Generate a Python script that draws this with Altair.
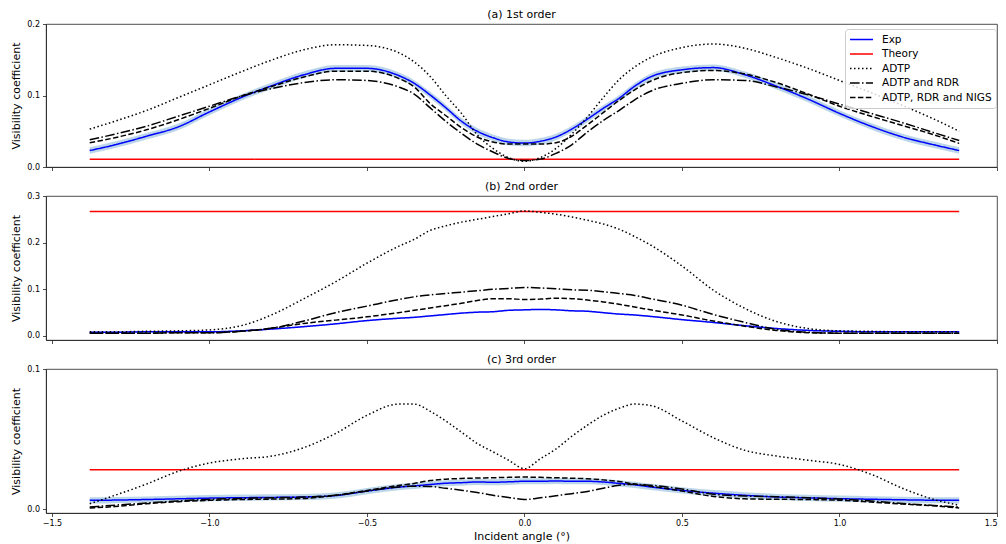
import altair as alt
import pandas as pd

# ---------------- data ----------------
X = [-1.38, -1.3, -1.2, -1.1, -1.0, -0.9, -0.8, -0.7, -0.6, -0.5, -0.4,
     -0.35, -0.3, -0.25, -0.2, -0.15, -0.1, -0.05, 0.0, 0.05, 0.1, 0.15,
     0.2, 0.25, 0.3, 0.35, 0.4, 0.5, 0.6, 0.7, 0.8, 0.9, 1.0, 1.1, 1.2,
     1.3, 1.38]

# (a) 1st order
A_EXP = [0.023, 0.031, 0.043, 0.056, 0.077, 0.097, 0.114, 0.129, 0.138, 0.138, 0.128,
         0.117, 0.101, 0.083, 0.064, 0.050, 0.041, 0.035, 0.0335, 0.036, 0.042, 0.053,
         0.067, 0.082, 0.096, 0.113, 0.126, 0.136, 0.139, 0.129, 0.113, 0.095, 0.075,
         0.057, 0.042, 0.031, 0.023]
A_ADTP = [0.053, 0.064, 0.079, 0.097, 0.115, 0.133, 0.150, 0.164, 0.171, 0.170, 0.160,
          0.147, 0.127, 0.100, 0.075, 0.045, 0.026, 0.013, 0.008, 0.013, 0.026, 0.046,
          0.070, 0.097, 0.122, 0.140, 0.153, 0.167, 0.172, 0.166, 0.153, 0.138, 0.121,
          0.104, 0.086, 0.067, 0.050]
A_RDR = [0.038, 0.046, 0.057, 0.071, 0.085, 0.099, 0.110, 0.118, 0.122, 0.121, 0.112,
         0.102, 0.083, 0.064, 0.047, 0.032, 0.021, 0.012, 0.009, 0.011, 0.019, 0.031,
         0.049, 0.065, 0.079, 0.094, 0.106, 0.117, 0.122, 0.121, 0.112, 0.101, 0.088,
         0.075, 0.062, 0.048, 0.037]
A_NIGS = [0.034, 0.041, 0.052, 0.066, 0.082, 0.099, 0.113, 0.126, 0.134, 0.134, 0.124,
          0.112, 0.089, 0.072, 0.055, 0.042, 0.035, 0.032, 0.032, 0.032, 0.034, 0.043,
          0.059, 0.076, 0.093, 0.108, 0.120, 0.132, 0.135, 0.130, 0.118, 0.102, 0.085,
          0.071, 0.058, 0.045, 0.033]

# (b) 2nd order
B_EXP = [0.008, 0.008, 0.009, 0.009, 0.009, 0.011, 0.015, 0.020, 0.026, 0.033, 0.038,
         0.040, 0.043, 0.046, 0.049, 0.051, 0.052, 0.055, 0.056, 0.057, 0.056, 0.054,
         0.053, 0.050, 0.047, 0.045, 0.042, 0.035, 0.029, 0.022, 0.016, 0.012, 0.010,
         0.009, 0.009, 0.009, 0.009]
B_ADTP = [0.009, 0.009, 0.010, 0.011, 0.013, 0.022, 0.046, 0.080, 0.116, 0.156, 0.192,
          0.207, 0.226, 0.236, 0.244, 0.250, 0.256, 0.262, 0.268, 0.265, 0.261, 0.255,
          0.248, 0.240, 0.229, 0.213, 0.195, 0.150, 0.098, 0.059, 0.031, 0.016, 0.011,
          0.010, 0.009, 0.009, 0.009]
B_RDR = [0.006, 0.006, 0.006, 0.007, 0.007, 0.010, 0.017, 0.032, 0.050, 0.064, 0.078,
         0.084, 0.088, 0.091, 0.094, 0.097, 0.100, 0.102, 0.104, 0.103, 0.101, 0.099,
         0.098, 0.095, 0.091, 0.087, 0.080, 0.066, 0.046, 0.029, 0.014, 0.008, 0.006,
         0.006, 0.006, 0.006, 0.006]
B_NIGS = [0.006, 0.006, 0.006, 0.007, 0.007, 0.010, 0.017, 0.027, 0.034, 0.041, 0.050,
          0.055, 0.060, 0.065, 0.070, 0.076, 0.080, 0.080, 0.078, 0.079, 0.081, 0.080,
          0.077, 0.073, 0.068, 0.062, 0.056, 0.045, 0.032, 0.021, 0.012, 0.007, 0.006,
          0.006, 0.006, 0.006, 0.006]

# (c) 3rd order
C_EXP = [0.0064, 0.0066, 0.0070, 0.0075, 0.0080, 0.0083, 0.0085, 0.0088, 0.0098, 0.0130, 0.0158,
         0.0167, 0.0177, 0.0186, 0.0190, 0.0195, 0.0193, 0.0196, 0.0200, 0.0200, 0.0202, 0.0200,
         0.0200, 0.0195, 0.0185, 0.0175, 0.0160, 0.0135, 0.0115, 0.0100, 0.0088, 0.0082, 0.0076,
         0.0072, 0.0068, 0.0065, 0.0064]
C_ADTP = [0.004, 0.010, 0.018, 0.027, 0.033, 0.036, 0.038, 0.044, 0.054, 0.067, 0.075,
          0.075, 0.070, 0.063, 0.055, 0.047, 0.041, 0.035, 0.029, 0.036, 0.043, 0.052,
          0.060, 0.067, 0.072, 0.075, 0.074, 0.063, 0.051, 0.042, 0.038, 0.035, 0.032,
          0.025, 0.015, 0.007, 0.003]
C_RDR = [0.0017, 0.0030, 0.0045, 0.0060, 0.0071, 0.0078, 0.0083, 0.0088, 0.0100, 0.0130, 0.0160,
         0.0165, 0.0163, 0.0150, 0.0136, 0.0120, 0.0100, 0.0085, 0.0070, 0.0082, 0.0097, 0.0112,
         0.0128, 0.0150, 0.0172, 0.0178, 0.0172, 0.0145, 0.0108, 0.0095, 0.0090, 0.0082, 0.0073,
         0.0060, 0.0042, 0.0028, 0.0017]
C_NIGS = [0.0010, 0.0020, 0.0040, 0.0055, 0.0064, 0.0070, 0.0073, 0.0078, 0.0100, 0.0135, 0.0170,
          0.0185, 0.0205, 0.0215, 0.0220, 0.0223, 0.0225, 0.0228, 0.0230, 0.0228, 0.0225, 0.0222,
          0.0218, 0.0210, 0.0198, 0.0180, 0.0165, 0.0130, 0.0092, 0.0075, 0.0072, 0.0070, 0.0065,
          0.0052, 0.0038, 0.0025, 0.0010]

THEORY = [0.011, 0.267, 0.0282]          # constant theory values per order
EXP_ERR = [0.0045, 0.0015, 0.0022]       # half-width of the experimental band

TITLES = ["(a) 1st order", "(b) 2nd order", "(c) 3rd order"]
Y_DOMAINS = [[0.0, 0.2], [-0.0086, 0.3], [-0.0026, 0.1]]
Y_TICKS = [[0.0, 0.1, 0.2], [0.0, 0.1, 0.2, 0.3], [0.0, 0.1]]
X_TICKS = [-1.5, -1.0, -0.5, 0.0, 0.5, 1.0, 1.5]
X_DOMAIN = [-1.5188, 1.5]

SERIES = ["Exp", "Theory", "ADTP", "ADTP and RDR", "ADTP, RDR and NIGS"]
COLORS = ["#0000ff", "#ff0000", "#000000", "#000000", "#000000"]
DASHES = [[1, 0], [1, 0], [1.5, 2.5], [9.6, 2.4, 1.5, 2.4], [5.5, 2.4]]

FONT = "DejaVu Sans"
PANEL_W = 951
PANEL_H = [143, 144, 144]


def panel(i, exp, adtp, rdr, nigs, show_legend, show_xlabels):
    theory = [THEORY[i]] * len(X)
    rows = []
    for name, vals in zip(SERIES, [exp, theory, adtp, rdr, nigs]):
        for xv, yv in zip(X, vals):
            rows.append({"x": xv, "v": yv, "series": name})
    df = pd.DataFrame(rows)
    band = pd.DataFrame({"x": X,
                         "lo": [e - EXP_ERR[i] for e in exp],
                         "hi": [e + EXP_ERR[i] for e in exp]})

    xaxis = alt.Axis(values=X_TICKS, format=".1f", labels=show_xlabels,
                     title="Incident angle (°)" if show_xlabels else None,
                     titlePadding=3, labelFlush=True)
    xenc = alt.X("x:Q", scale=alt.Scale(domain=X_DOMAIN, nice=False, zero=False),
                 axis=xaxis)
    yscale = alt.Scale(domain=Y_DOMAINS[i], nice=False, zero=False)
    yaxis = alt.Axis(values=Y_TICKS[i], format=".1f", title="Visibility coefficient",
                     titlePadding=5)

    band_layer = alt.Chart(band).mark_area(color="#1f77b4", opacity=0.3,
                                           interpolate="monotone").encode(
        x=xenc,
        y=alt.Y("lo:Q", scale=yscale, axis=yaxis),
        y2="hi:Q",
    )

    if show_legend:
        leg = alt.Legend(title=None, orient="none", legendX=PANEL_W - 152, legendY=5,
                         labelFont=FONT, labelFontSize=10.5, labelColor="black",
                         symbolType="stroke", symbolSize=529, symbolStrokeWidth=1.5,
                         labelOffset=8, clipHeight=13, rowPadding=1.5, padding=4,
                         strokeColor="#cccccc", fillColor="rgba(255,255,255,0.8)",
                         cornerRadius=3)
    else:
        leg = None

    lines = alt.Chart(df).mark_line(strokeWidth=1.5, interpolate="monotone").encode(
        x=xenc,
        y=alt.Y("v:Q", scale=yscale, axis=yaxis),
        color=alt.Color("series:N", sort=SERIES,
                        scale=alt.Scale(domain=SERIES, range=COLORS), legend=leg),
        strokeDash=alt.StrokeDash("series:N", sort=SERIES,
                                  scale=alt.Scale(domain=SERIES, range=DASHES),
                                  legend=leg),
    )

    return alt.layer(band_layer, lines).properties(
        width=PANEL_W, height=PANEL_H[i],
        title=alt.TitleParams(TITLES[i], font=FONT, fontSize=11, fontWeight="normal",
                              color="black", anchor="middle", offset=0),
    )


pa = panel(0, A_EXP, A_ADTP, A_RDR, A_NIGS, True, False)
pb = panel(1, B_EXP, B_ADTP, B_RDR, B_NIGS, False, False)
pc = panel(2, C_EXP, C_ADTP, C_RDR, C_NIGS, False, True)

chart = alt.vconcat(pa, pb, pc, spacing=29, bounds="flush").resolve_scale(
    color="independent", strokeDash="independent"
).resolve_legend(color="independent", strokeDash="independent").properties(
    padding={"left": 2, "top": 0, "right": 0, "bottom": 0}
).configure_view(
    stroke="#222222", strokeWidth=0.8
).configure_axis(
    grid=False, labelFont=FONT, labelFontSize=8, labelColor="black",
    titleFont=FONT, titleFontSize=11, titleFontWeight="normal", titleColor="black",
    domainColor="#222222", domainWidth=0.8, tickColor="#222222", tickWidth=0.8,
    tickSize=3.5, labelPadding=3
)

chart.save("out.html", embed_options={"renderer": "svg", "actions": False})
